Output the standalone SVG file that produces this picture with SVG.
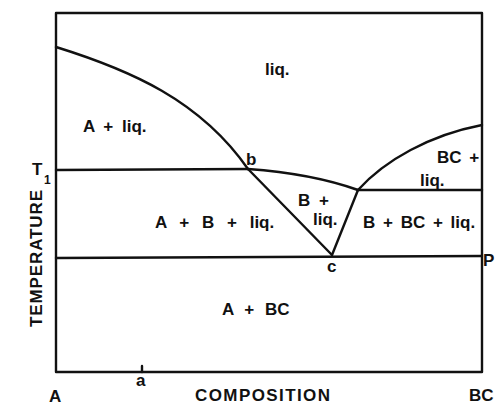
<svg xmlns="http://www.w3.org/2000/svg" width="495" height="408" viewBox="0 0 495 408">
<style>
.ln{fill:none;stroke:#111;stroke-width:2.4;stroke-linejoin:round;stroke-linecap:round}
.t{font-family:"Liberation Sans","DejaVu Sans",sans-serif;font-weight:bold;font-size:17px;fill:#111}
</style>
<rect width="495" height="408" fill="#fff"/>
<g id="connectors">
<rect class="ln" x="56" y="13" width="426" height="359"/>
<path class="ln" d="M56,47 C130,70 200,100 248,169"/>
<path class="ln" d="M56,170 L248,169"/>
<path class="ln" d="M248,169 C290,172 330,180 358,190"/>
<path class="ln" d="M358,190 L482,190"/>
<path class="ln" d="M358,190 C385,160 430,135 482,125"/>
<path class="ln" d="M248,169 L332,255"/>
<path class="ln" d="M358,190 L332,255"/>
<path class="ln" d="M56,258 L482,256"/>
<path class="ln" d="M142,366 L142,372"/>
</g>
<g id="labels">
<text class="t" x="265" y="75">liq.</text>
<text class="t" x="83" y="132" style="word-spacing:4px">A + liq.</text>
<text class="t" x="246" y="165">b</text>
<text class="t" x="437" y="163" style="word-spacing:3px">BC +</text>
<text class="t" x="420" y="186">liq.</text>
<text class="t" x="298" y="206" style="word-spacing:4px">B +</text>
<text class="t" x="313" y="225">liq.</text>
<text class="t" x="155" y="228" style="word-spacing:8px">A + B + liq.</text>
<text class="t" x="363" y="228" style="word-spacing:3px">B + BC + liq.</text>
<text class="t" x="327" y="272">c</text>
<text class="t" x="222" y="315" style="word-spacing:6px">A + BC</text>
<text class="t" x="32" y="175">T</text>
<text class="t" x="44" y="184" style="font-size:12px">1</text>
<text class="t" x="483" y="266">P</text>
<text class="t" x="136" y="386">a</text>
<text class="t" x="49" y="402">A</text>
<text class="t" x="195" y="401" textLength="135">COMPOSITION</text>
<text class="t" x="469" y="401">BC</text>
<text class="t" transform="translate(42,327) rotate(-90)" textLength="137">TEMPERATURE</text>
</g>
</svg>
